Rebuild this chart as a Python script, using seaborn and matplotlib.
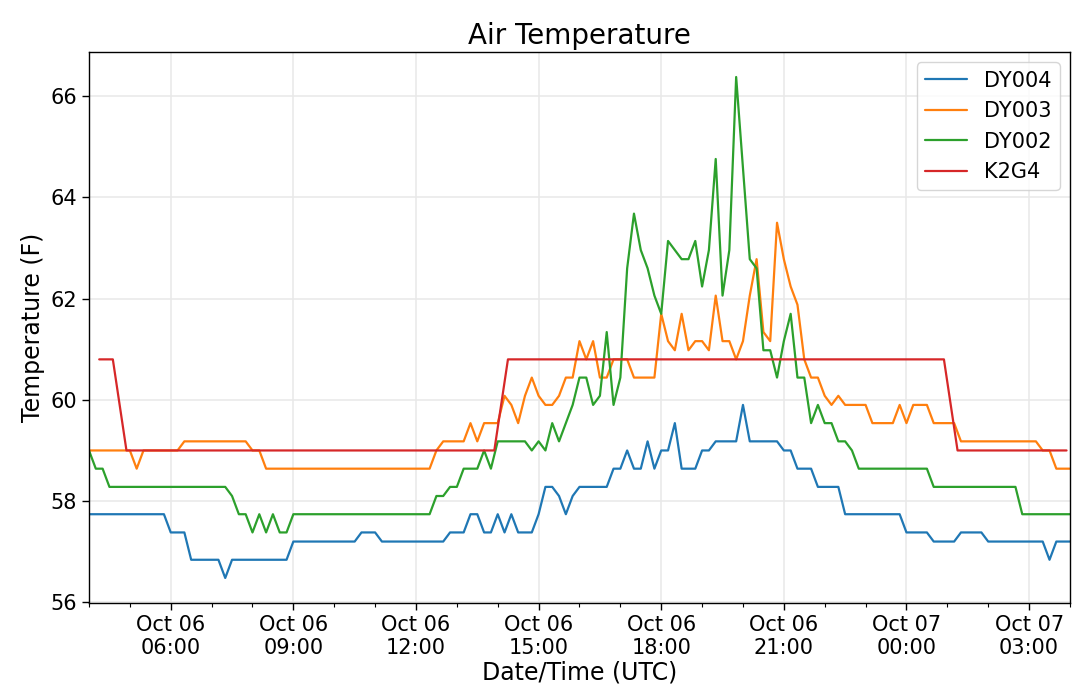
import numpy as np
import pandas as pd
import matplotlib
matplotlib.use("Agg")
import matplotlib.pyplot as plt
import matplotlib.dates as mdates
import seaborn as sns

# 10 minute station data, Oct 06 04:00 -> Oct 07 04:00 UTC (deg F)
dy004 = [
    57.74, 57.74, 57.74, 57.74, 57.74, 57.74, 57.74, 57.74, 57.74, 57.74, 57.74, 57.74,
    57.38, 57.38, 57.38, 56.84, 56.84, 56.84, 56.84, 56.84, 56.48, 56.84, 56.84, 56.84,
    56.84, 56.84, 56.84, 56.84, 56.84, 56.84, 57.2, 57.2, 57.2, 57.2, 57.2, 57.2,
    57.2, 57.2, 57.2, 57.2, 57.38, 57.38, 57.38, 57.2, 57.2, 57.2, 57.2, 57.2,
    57.2, 57.2, 57.2, 57.2, 57.2, 57.38, 57.38, 57.38, 57.74, 57.74, 57.38, 57.38,
    57.74, 57.38, 57.74, 57.38, 57.38, 57.38, 57.74, 58.28, 58.28, 58.1, 57.74, 58.1,
    58.28, 58.28, 58.28, 58.28, 58.28, 58.64, 58.64, 59.0, 58.64, 58.64, 59.18, 58.64,
    59.0, 59.0, 59.54, 58.64, 58.64, 58.64, 59.0, 59.0, 59.18, 59.18, 59.18, 59.18,
    59.9, 59.18, 59.18, 59.18, 59.18, 59.18, 59.0, 59.0, 58.64, 58.64, 58.64, 58.28,
    58.28, 58.28, 58.28, 57.74, 57.74, 57.74, 57.74, 57.74, 57.74, 57.74, 57.74, 57.74,
    57.38, 57.38, 57.38, 57.38, 57.2, 57.2, 57.2, 57.2, 57.38, 57.38, 57.38, 57.38,
    57.2, 57.2, 57.2, 57.2, 57.2, 57.2, 57.2, 57.2, 57.2, 56.84, 57.2, 57.2,
    57.2,
]

dy003 = [
    59.0, 59.0, 59.0, 59.0, 59.0, 59.0, 59.0, 58.64, 59.0, 59.0, 59.0, 59.0,
    59.0, 59.0, 59.18, 59.18, 59.18, 59.18, 59.18, 59.18, 59.18, 59.18, 59.18, 59.18,
    59.0, 59.0, 58.64, 58.64, 58.64, 58.64, 58.64, 58.64, 58.64, 58.64, 58.64, 58.64,
    58.64, 58.64, 58.64, 58.64, 58.64, 58.64, 58.64, 58.64, 58.64, 58.64, 58.64, 58.64,
    58.64, 58.64, 58.64, 59.0, 59.18, 59.18, 59.18, 59.18, 59.54, 59.18, 59.54, 59.54,
    59.54, 60.08, 59.9, 59.54, 60.08, 60.44, 60.08, 59.9, 59.9, 60.08, 60.44, 60.44,
    61.16, 60.8, 61.16, 60.44, 60.44, 60.8, 60.8, 60.8, 60.44, 60.44, 60.44, 60.44,
    61.7, 61.16, 60.98, 61.7, 60.98, 61.16, 61.16, 60.98, 62.06, 61.16, 61.16, 60.8,
    61.16, 62.06, 62.78, 61.34, 61.16, 63.5, 62.78, 62.24, 61.88, 60.8, 60.44, 60.44,
    60.08, 59.9, 60.08, 59.9, 59.9, 59.9, 59.9, 59.54, 59.54, 59.54, 59.54, 59.9,
    59.54, 59.9, 59.9, 59.9, 59.54, 59.54, 59.54, 59.54, 59.18, 59.18, 59.18, 59.18,
    59.18, 59.18, 59.18, 59.18, 59.18, 59.18, 59.18, 59.18, 59.0, 59.0, 58.64, 58.64,
    58.64,
]

dy002 = [
    59.0, 58.64, 58.64, 58.28, 58.28, 58.28, 58.28, 58.28, 58.28, 58.28, 58.28, 58.28,
    58.28, 58.28, 58.28, 58.28, 58.28, 58.28, 58.28, 58.28, 58.28, 58.1, 57.74, 57.74,
    57.38, 57.74, 57.38, 57.74, 57.38, 57.38, 57.74, 57.74, 57.74, 57.74, 57.74, 57.74,
    57.74, 57.74, 57.74, 57.74, 57.74, 57.74, 57.74, 57.74, 57.74, 57.74, 57.74, 57.74,
    57.74, 57.74, 57.74, 58.1, 58.1, 58.28, 58.28, 58.64, 58.64, 58.64, 59.0, 58.64,
    59.18, 59.18, 59.18, 59.18, 59.18, 59.0, 59.18, 59.0, 59.54, 59.18, 59.54, 59.9,
    60.44, 60.44, 59.9, 60.08, 61.34, 59.9, 60.44, 62.6, 63.68, 62.96, 62.6, 62.06,
    61.7, 63.14, 62.96, 62.78, 62.78, 63.14, 62.24, 62.96, 64.76, 62.06, 62.96, 66.38,
    64.58, 62.78, 62.6, 60.98, 60.98, 60.44, 61.16, 61.7, 60.44, 60.44, 59.54, 59.9,
    59.54, 59.54, 59.18, 59.18, 59.0, 58.64, 58.64, 58.64, 58.64, 58.64, 58.64, 58.64,
    58.64, 58.64, 58.64, 58.64, 58.28, 58.28, 58.28, 58.28, 58.28, 58.28, 58.28, 58.28,
    58.28, 58.28, 58.28, 58.28, 58.28, 57.74, 57.74, 57.74, 57.74, 57.74, 57.74, 57.74,
    57.74,
]

# K2G4 reports every 20 minutes (:15, :35, :55), 04:15 -> 03:55
k2g4 = [
    60.8, 60.8, 59.0,
    59.0, 59.0, 59.0, 59.0, 59.0, 59.0, 59.0, 59.0, 59.0,
    59.0, 59.0, 59.0, 59.0, 59.0, 59.0, 59.0, 59.0, 59.0,
    59.0, 59.0, 59.0, 59.0, 59.0, 59.0, 59.0, 59.0, 59.0,
    60.8, 60.8, 60.8, 60.8, 60.8, 60.8, 60.8, 60.8, 60.8,
    60.8, 60.8, 60.8, 60.8, 60.8, 60.8, 60.8, 60.8, 60.8,
    60.8, 60.8, 60.8, 60.8, 60.8, 60.8, 60.8, 60.8, 60.8,
    60.8, 60.8, 60.8, 60.8, 60.8, 60.8,
    59.0, 59.0, 59.0, 59.0, 59.0, 59.0, 59.0, 59.0, 59.0,
]

stations = ["DY004", "DY003", "DY002", "K2G4"]
colors = ["#1f77b4", "#ff7f0e", "#2ca02c", "#d62728"]

t_dy = pd.date_range("2017-10-06 04:00", periods=len(dy004), freq="10min")
t_k2 = pd.date_range("2017-10-06 04:15", periods=len(k2g4), freq="20min")

frames = []
for name, vals in zip(stations[:3], [dy004, dy003, dy002]):
    frames.append(pd.DataFrame({"time": t_dy, "temp": vals, "station": name}))
frames.append(pd.DataFrame({"time": t_k2, "temp": k2g4, "station": "K2G4"}))
df = pd.concat(frames, ignore_index=True)

sns.set_style("ticks", {"axes.edgecolor": "black", "xtick.color": "black",
                        "ytick.color": "black", "text.color": "black",
                        "axes.labelcolor": "black"})
plt.rcParams["font.family"] = ["DejaVu Sans"]

fig = plt.figure(figsize=(10.8, 6.88), dpi=100)
ax = fig.add_axes([0.0824, 0.1235, 0.9083, 0.801])

sns.lineplot(data=df, x="time", y="temp", hue="station", hue_order=stations,
             palette=colors, linewidth=1.6, ax=ax, estimator=None)

ax.set_xlim(t_dy[0], t_dy[-1])
ax.xaxis.set_major_locator(mdates.HourLocator(byhour=range(0, 24, 3)))
ax.xaxis.set_minor_locator(mdates.HourLocator())
ax.xaxis.set_major_formatter(mdates.DateFormatter("%b %d\n%H:%M"))
ax.set_yticks([56, 58, 60, 62, 64, 66])

ax.grid(True, which="major", color="#e8e8e8", linewidth=1.1)
ax.set_axisbelow(True)
for s in ax.spines.values():
    s.set_visible(True)
    s.set_linewidth(1.0)
ax.tick_params(axis="both", which="major", labelsize=15, length=5, width=1)
ax.tick_params(axis="x", which="minor", length=3, width=0.8)

ax.set_title("Air Temperature", fontsize=20)
ax.set_xlabel("Date/Time (UTC)", fontsize=17, labelpad=2)
ax.set_ylabel("Temperature (F)", fontsize=17)

ax.legend(loc="upper right", fontsize=15, frameon=True, framealpha=0.8,
          edgecolor="#cccccc", fancybox=True)

fig.savefig("out.png", dpi=100)
